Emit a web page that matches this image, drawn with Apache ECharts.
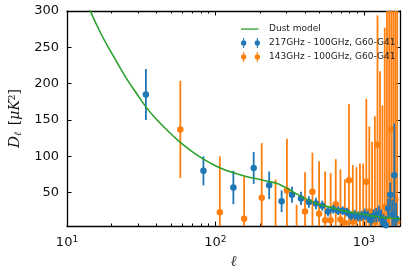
<!DOCTYPE html>
<html>
<head>
<meta charset="utf-8">
<script src="https://cdn.jsdelivr.net/npm/echarts@6/dist/echarts.min.js"></script>
<style>
  html, body { margin: 0; padding: 0; background: #fff; }
  #chart { width: 416px; height: 276px; }
</style>
</head>
<body>
<div id="chart"></div>
<script>
// dust model curve
var dustL = [12, 14, 17, 20, 25, 30, 34, 40, 50, 58, 70, 83, 100, 120, 150, 180, 220, 260, 300, 340, 400, 480, 560, 650, 750, 900, 1050, 1250, 1500, 1750];
var dustD = [340, 305, 268, 242, 208, 184, 168, 151, 131, 119, 106, 96, 87, 80, 74, 70, 66, 62.5, 56.5, 50, 42, 35, 31, 27.5, 24.5, 21.5, 19, 16.8, 15, 13.8];

// 217GHz - 100GHz
var ell217 = [34, 83, 132, 181, 230, 279, 328, 377, 426, 475, 524, 573, 622, 671, 720, 769, 818, 867, 916, 965, 1014, 1063, 1112, 1161, 1210, 1259, 1308, 1357, 1406, 1455, 1504, 1553, 1602, 1651];
var d217   = [185, 80, 57, 84, 60, 38, 47, 42, 37, 35, 32, 24, 27, 25, 25, 23, 18, 19, 17, 18, 20, 17, 12, 18, 19, 21, 15, 8, 5, 28, 47, 20, 74, 14];
var err217 = [35, 20, 23, 22, 19, 15, 11, 9, 8, 8, 7, 7, 6, 6, 6, 6, 6, 7, 7, 7, 8, 8, 9, 9, 10, 11, 12, 12, 13, 14, 17, 20, 71, 22];

// 143GHz - 100GHz
var ell143 = [58, 107, 156, 205, 254, 303, 352, 401, 450, 499, 548, 597, 646, 695, 744, 793, 842, 891, 940, 989, 1038, 1087, 1136, 1185, 1234, 1283, 1332, 1381, 1430, 1479, 1528, 1577, 1626, 1675];
var d143   = [137, 23, 14, 43, -10, 53, 2, 24, 51, 21, 12, 12, 34, 13, 8, 67, 10, 0, 15, 20, 65, 24, 20, 10, 116, 15, 20, 30, 10, 25, 137, 20, 40, 10];
var err143 = [67, 77, 58, 75, 78, 71, 31, 54, 54, 72, 67, 65, 62, 69, 60, 105, 78, 85, 75, 70, 114, 117, 100, 145, 178, 202, 150, 247, 300, 400, 300, 400, 500, 600];

var yTicks = [50, 100, 150, 200, 250, 300];

var xMin = 10, xMax = 1750, yMin = 4, yMax = 300;

var C217 = '#1f77b4', C143 = '#ff7f0e', CDUST = '#2ca02c';
var errIcon = 'path://M2.1,0h1.1v10h-1.1z M15.8,0h1.1v10h-1.1z M0,5a2.65,2.65 0 1,1 5.3,0a2.65,2.65 0 1,1 -5.3,0z M13.7,5a2.65,2.65 0 1,1 5.3,0a2.65,2.65 0 1,1 -5.3,0z M23,5';
var lineIcon = 'path://M0,0 M0,4.4h17.5v1.3h-17.5z M23,10';

function zip2(a, b) {
  return a.map(function (v, i) { return [v, b[i]]; });
}
function errRows(l, d, e) {
  return l.map(function (v, i) { return [v, d[i] - e[i], d[i] + e[i]]; });
}

function renderErr(params, api) {
  var x = api.value(0);
  var p1 = api.coord([x, api.value(1)]);
  var p2 = api.coord([x, api.value(2)]);
  var cs = params.coordSys;
  var top = cs.y, bot = cs.y + cs.height;
  var y1 = Math.min(Math.max(p1[1], top), bot);
  var y2 = Math.min(Math.max(p2[1], top), bot);
  return {
    type: 'line',
    shape: { x1: p1[0], y1: y1, x2: p1[0], y2: y2 },
    style: { stroke: api.visual('color'), lineWidth: 1.8 }
  };
}

var tickFont = { fontFamily: 'DejaVu Sans', fontSize: 13, color: '#111' };
var frameLine = { show: true, lineStyle: { color: '#000', width: 1.3 } };
var majorTick = { show: true, inside: true, length: 4.5, lineStyle: { color: '#000', width: 1 } };
var minorTick = { show: true, splitNumber: 9, length: 2.5, lineStyle: { color: '#000', width: 1 } };

var chart = echarts.init(document.getElementById('chart'), null, { renderer: 'canvas' });
chart.setOption({
  animation: false,
  backgroundColor: '#fff',
  grid: { left: 67, right: 16, top: 11, bottom: 50, containLabel: false },
  legend: {
    data: [
      { name: 'Dust model', icon: lineIcon },
      { name: '217GHz - 100GHz, G60-G41', icon: errIcon },
      { name: '143GHz - 100GHz, G60-G41', icon: errIcon }
    ],
    orient: 'vertical',
    left: 236, top: 19,
    itemWidth: 23, itemHeight: 10, itemGap: 4,
    itemStyle: { borderWidth: 0 },
    textStyle: { fontFamily: 'DejaVu Sans', fontSize: 9, color: '#222' },
    selectedMode: false
  },
  xAxis: [
    {
      type: 'log', logBase: 10, min: xMin, max: xMax, position: 'bottom',
      name: 'ℓ', nameLocation: 'middle', nameGap: 25,
      nameTextStyle: { fontFamily: 'DejaVu Serif', fontStyle: 'italic', fontSize: 15, color: '#333' },
      axisLine: frameLine,
      axisTick: majorTick,
      minorTick: minorTick,
      axisLabel: {
        margin: 9, showMaxLabel: false,
        formatter: function (v) {
          var e = Math.round(Math.log10(v));
          if (Math.abs(Math.pow(10, e) - v) > 1e-6) return '';
          return '{b|10}{s|' + e + '}';
        },
        rich: {
          b: { fontFamily: 'DejaVu Sans', fontSize: 13, color: '#111' },
          s: { fontFamily: 'DejaVu Sans', fontSize: 9, color: '#111', verticalAlign: 'top', padding: [0, 0, 7, 0] }
        }
      },
      splitLine: { show: false }
    },
    {
      type: 'log', logBase: 10, min: xMin, max: xMax, position: 'top',
      axisLine: frameLine,
      axisTick: majorTick,
      minorTick: minorTick,
      axisLabel: { show: false },
      splitLine: { show: false }
    }
  ],
  yAxis: [
    {
      type: 'value', min: yMin, max: yMax, position: 'left',
      name: '{d|D}{l|ℓ}  {t|[}{i|μK}{p|2}{t|]}', nameLocation: 'middle', nameGap: 44,
      nameTextStyle: {
        rich: {
          d: { fontFamily: 'DejaVu Serif', fontStyle: 'italic', fontSize: 15, color: '#111' },
          l: { fontFamily: 'DejaVu Serif', fontStyle: 'italic', fontSize: 10, color: '#111', verticalAlign: 'bottom' },
          t: { fontFamily: 'DejaVu Serif', fontSize: 14, color: '#111' },
          i: { fontFamily: 'DejaVu Serif', fontStyle: 'italic', fontSize: 14, color: '#111' },
          p: { fontFamily: 'DejaVu Serif', fontSize: 9, color: '#111', verticalAlign: 'top' }
        }
      },
      axisLine: frameLine,
      axisTick: Object.assign({ customValues: yTicks }, majorTick),
      axisLabel: Object.assign({ margin: 8, customValues: yTicks }, tickFont),
      splitLine: { show: false }
    },
    {
      type: 'value', min: yMin, max: yMax, position: 'right',
      axisLine: frameLine,
      axisTick: Object.assign({ customValues: yTicks }, majorTick),
      axisLabel: { show: false },
      splitLine: { show: false }
    }
  ],
  series: [
    {
      name: 'err143', type: 'custom', renderItem: renderErr, z: 2,
      itemStyle: { color: C143 },
      encode: { x: 0, y: [1, 2] },
      data: errRows(ell143, d143, err143)
    },
    {
      name: '143GHz - 100GHz, G60-G41', type: 'scatter', z: 3,
      symbolSize: 6.5, itemStyle: { color: C143, opacity: 1 },
      data: zip2(ell143, d143)
    },
    {
      name: 'err217', type: 'custom', renderItem: renderErr, z: 4,
      itemStyle: { color: C217 },
      encode: { x: 0, y: [1, 2] },
      data: errRows(ell217, d217, err217)
    },
    {
      name: '217GHz - 100GHz, G60-G41', type: 'scatter', z: 5,
      symbolSize: 6.5, itemStyle: { color: C217, opacity: 1 },
      data: zip2(ell217, d217)
    },
    {
      name: 'Dust model', type: 'line', z: 6,
      showSymbol: false, symbol: 'none', smooth: 0.3,
      itemStyle: { color: CDUST },
      lineStyle: { color: CDUST, width: 1.6 },
      data: zip2(dustL, dustD)
    }
  ]
});
</script>
</body>
</html>
